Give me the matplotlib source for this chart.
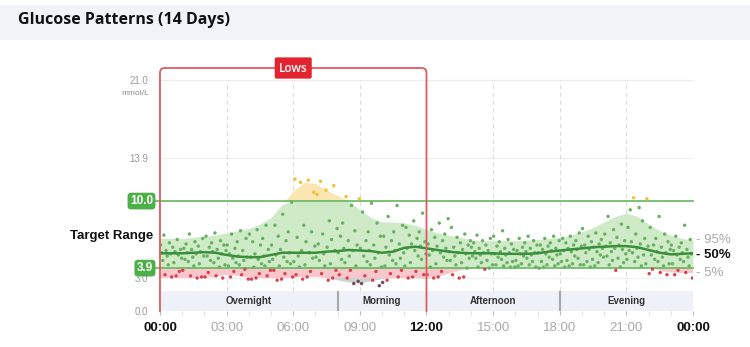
import numpy as np
import matplotlib.pyplot as plt
from matplotlib.patches import Rectangle

# half-hourly percentile curves (mmol/L)
hours = np.arange(0, 24.5, 0.5)
p95 = [6.6, 6.6, 6.6, 6.7, 6.8, 6.9, 7.1, 7.3, 7.5, 7.9, 8.5, 9.7, 10.9, 11.7, 11.6, 11.0,
       10.5, 10.0, 9.2, 8.5, 8.1, 8.1, 8.0, 7.8, 7.4,
       7.1, 6.9, 6.7, 6.5, 6.4, 6.4, 6.4, 6.4, 6.45, 6.5, 6.6, 6.7, 6.9, 7.2, 7.6, 8.1,
       8.6, 8.9, 8.6, 7.9, 7.3, 6.9, 6.6, 6.45]
p50 = [5.25, 5.25, 5.25, 5.3, 5.35, 5.3, 5.1, 4.95, 4.9, 4.9, 5.1, 5.3, 5.3, 5.3, 5.3, 5.4,
       5.45, 5.55, 5.5, 5.45, 5.3, 5.4, 5.75, 5.85, 5.7,
       5.55, 5.4, 5.3, 5.25, 5.25, 5.25, 5.2, 5.2, 5.2, 5.25, 5.4, 5.5, 5.6, 5.7, 5.8, 5.85,
       5.9, 5.9, 5.8, 5.55, 5.3, 5.15, 5.2, 5.25]
p5 = [3.0, 3.0, 3.0, 3.0, 3.0, 3.1, 3.3, 3.2, 3.05, 3.0, 3.0, 3.0, 3.05, 3.1, 3.1, 3.0,
      2.8, 2.6, 2.5, 2.7, 2.9, 3.0, 3.0, 3.0, 2.9,
      3.1, 3.4, 3.7, 3.9, 4.0, 4.05, 4.05, 4.05, 4.05, 4.05, 4.05, 4.05, 4.05, 4.05, 4.05, 4.05,
      4.05, 4.0, 4.0, 3.95, 3.7, 3.5, 3.45, 3.45]

# readings per hour of day (14 days pooled)
readings = [
    [6.9, 6.5, 6.2, 6.0, 5.8, 5.6, 5.5, 5.4, 5.3, 5.2, 5.1, 5.0, 4.8, 4.6, 4.4, 4.2, 3.6, 3.3, 3.2, 3.1],
    [7.0, 6.6, 6.3, 6.1, 5.9, 5.7, 5.6, 5.4, 5.3, 5.2, 5.0, 4.9, 4.7, 4.5, 4.3, 4.1, 3.7, 3.2, 3.1, 3.0],
    [7.1, 6.8, 6.4, 6.2, 6.0, 5.8, 5.6, 5.5, 5.4, 5.2, 5.0, 4.8, 4.6, 4.4, 4.2, 4.0, 3.5, 3.2, 3.1, 3.0],
    [7.3, 7.0, 6.6, 6.3, 6.0, 5.7, 5.5, 5.2, 5.0, 4.9, 4.8, 4.6, 4.4, 4.2, 4.1, 3.8, 3.6, 3.3, 3.1, 2.9],
    [7.8, 7.4, 7.0, 6.6, 6.3, 6.0, 5.6, 5.2, 5.0, 4.9, 4.7, 4.5, 4.3, 4.1, 4.0, 3.7, 3.4, 3.2, 3.0, 2.9],
    [9.9, 8.8, 7.8, 7.2, 6.8, 6.4, 6.0, 5.6, 5.3, 5.1, 4.9, 4.7, 4.5, 4.3, 4.1, 3.7, 3.4, 3.1, 2.9, 2.8],
    [12.0, 11.9, 11.7, 10.8, 7.8, 7.2, 6.7, 6.3, 5.9, 5.5, 5.3, 5.0, 4.8, 4.5, 4.2, 4.0, 3.6, 3.3, 3.1, 2.9],
    [11.8, 11.4, 11.0, 10.6, 8.2, 7.5, 7.0, 6.5, 6.1, 5.8, 5.5, 5.2, 4.9, 4.6, 4.3, 4.1, 3.7, 3.4, 3.0, 2.8],
    [10.4, 10.2, 9.6, 8.0, 7.3, 6.8, 6.4, 6.0, 5.7, 5.5, 5.3, 5.0, 4.7, 4.4, 4.1, 3.7, 3.3, 3.0, 2.7, 2.5],
    [9.8, 9.0, 8.0, 7.2, 6.8, 6.4, 6.0, 5.7, 5.5, 5.3, 5.0, 4.8, 4.5, 4.2, 4.0, 3.6, 3.2, 2.8, 2.5, 2.3],
    [9.6, 8.6, 7.8, 7.2, 6.8, 6.4, 6.1, 5.8, 5.5, 5.3, 5.1, 4.8, 4.6, 4.3, 4.1, 3.7, 3.4, 3.1, 2.8, 2.6],
    [8.9, 8.2, 7.6, 7.2, 6.9, 6.6, 6.3, 6.1, 5.9, 5.7, 5.5, 5.2, 5.0, 4.7, 4.4, 4.1, 3.6, 3.3, 3.1, 3.0],
    [8.4, 8.0, 7.4, 7.0, 6.7, 6.4, 6.1, 5.9, 5.7, 5.5, 5.3, 5.1, 4.9, 4.6, 4.3, 4.0, 3.6, 3.3, 3.1, 3.0],
    [7.6, 7.0, 6.7, 6.4, 6.2, 6.0, 5.8, 5.6, 5.4, 5.3, 5.2, 5.0, 4.8, 4.6, 4.4, 4.2, 3.9, 3.3, 3.1, 3.0],
    [6.9, 6.6, 6.4, 6.2, 6.0, 5.8, 5.7, 5.5, 5.4, 5.3, 5.2, 5.1, 5.0, 4.8, 4.6, 4.4, 4.2, 4.0, 3.9, 3.8],
    [7.3, 6.8, 6.5, 6.3, 6.1, 5.9, 5.7, 5.6, 5.4, 5.3, 5.2, 5.1, 4.9, 4.7, 4.5, 4.4, 4.2, 4.1, 4.0, 4.0],
    [6.8, 6.6, 6.4, 6.2, 6.0, 5.8, 5.7, 5.5, 5.4, 5.3, 5.2, 5.1, 5.0, 4.8, 4.6, 4.5, 4.3, 4.2, 4.1, 4.0],
    [6.8, 6.6, 6.4, 6.2, 6.0, 5.9, 5.7, 5.6, 5.5, 5.3, 5.2, 5.1, 4.9, 4.7, 4.5, 4.3, 4.2, 4.1, 4.0, 3.9],
    [7.1, 6.8, 6.6, 6.4, 6.2, 6.0, 5.9, 5.7, 5.6, 5.5, 5.4, 5.2, 5.0, 4.8, 4.6, 4.5, 4.3, 4.2, 4.1, 4.0],
    [7.5, 7.1, 6.8, 6.5, 6.3, 6.1, 6.0, 5.8, 5.7, 5.6, 5.4, 5.3, 5.1, 4.9, 4.7, 4.5, 4.4, 4.2, 4.1, 4.0],
    [8.6, 7.9, 7.4, 7.0, 6.7, 6.4, 6.2, 6.0, 5.9, 5.7, 5.6, 5.4, 5.2, 5.0, 4.8, 4.6, 4.4, 4.2, 4.0, 3.7],
    [10.3, 10.2, 9.4, 9.2, 8.2, 7.6, 7.0, 6.6, 6.3, 6.1, 5.9, 5.7, 5.5, 5.3, 5.1, 4.9, 4.7, 4.5, 4.3, 4.1],
    [8.6, 7.6, 7.0, 6.6, 6.3, 6.0, 5.8, 5.6, 5.4, 5.3, 5.1, 4.9, 4.7, 4.5, 4.3, 4.1, 3.8, 3.5, 3.4, 3.3],
    [7.8, 6.8, 6.5, 6.2, 6.0, 5.8, 5.6, 5.5, 5.3, 5.2, 5.1, 4.9, 4.7, 4.5, 4.3, 4.1, 3.7, 3.5, 3.3, 3.0],
]
# slot (of 20 per hour) each reading of an hour falls in
slot_order = [3, 15, 8, 0, 11, 18, 5, 13, 1, 9, 16, 6, 19, 2, 12, 7, 17, 4, 14, 10]

low_limit, high_limit = 3.9, 10.0
periods = ["Overnight", "Morning", "Afternoon", "Evening"]
period_edges = [0, 8, 12, 18, 24]
tick_hours = [0, 3, 6, 9, 12, 15, 18, 21, 24]
tick_labels = ["00:00", "03:00", "06:00", "09:00", "12:00", "15:00", "18:00", "21:00", "00:00"]
y_ticks = [0.0, 3.0, 13.9, 21.0]

plt.rcParams['font.family'] = ['Liberation Sans', 'DejaVu Sans']

fig = plt.figure(figsize=(7.5, 3.47), dpi=100)
fig.patches.append(Rectangle((0, 0.885), 1, 0.1, transform=fig.transFigure,
                             facecolor='#f1f3f9', edgecolor='none', zorder=0))
fig.text(0.024, 0.942, "Glucose Patterns (14 Days)", fontsize=11.5, weight='bold',
         family='Open Sans', va='center', color='#111111')

ax = fig.add_axes([0.2133, 0.1037, 0.7107, 0.713])
ax.set_xlim(0, 24)
ax.set_ylim(0, 22.5)
for s in ax.spines.values():
    s.set_visible(False)

p95 = np.array(p95)
p50 = np.array(p50)
p5 = np.array(p5)

# grid
ax.hlines([21.0, 13.9], 0, 24, color='#ececec', lw=0.8, zorder=0)
ax.hlines([3.0], 0, 24, color='#f0f0f0', lw=0.8, zorder=0)
ax.vlines([3, 6, 9, 15, 18, 21], 1.8, 21.0, color='#dcdcdc', lw=0.8,
          linestyles=(0, (4, 3)), zorder=0)

# percentile bands
ax.fill_between(hours, np.maximum(p5, low_limit), np.minimum(p95, high_limit),
                color='#cfeac6', lw=0, interpolate=True, zorder=1)
ax.fill_between(hours, high_limit, p95, where=p95 > high_limit,
                color='#fbe5b0', lw=0, interpolate=True, zorder=1)
ax.fill_between(hours, np.maximum(p5, 3.0), low_limit, where=p5 < low_limit,
                color='#f9c6cb', lw=0, interpolate=True, zorder=1)
ax.fill_between(hours, p5, 3.0, where=p5 < 3.0,
                color='#cfcfd4', lw=0, interpolate=True, zorder=1)

# readings, spread over the hour they were taken in
xs, ys = [], []
for h, vals in enumerate(readings):
    for i, v in enumerate(vals):
        xs.append(h + ((slot_order[i] + h * 3) % 20 + 0.5) / 20)
        ys.append(v)
xs = np.array(xs)
ys = np.array(ys)
cols = np.where(ys > high_limit, '#f0c030',
       np.where(ys < 2.8, '#6e4a55',
       np.where(ys < low_limit, '#d8434f', '#66b162')))
ax.scatter(xs, ys, s=6, c=cols, marker='o', lw=0, zorder=3)

# median
ax.plot(hours, p50, color='#3a8f3a', lw=1.8, zorder=4)

# target lines + tags
tr = ax.get_yaxis_transform()
for lim in (high_limit, low_limit):
    ax.plot([-0.013, 1], [lim, lim], transform=tr, color='#62b85e', lw=1.2,
            clip_on=False, zorder=2)
    ax.text(-0.013, lim, f"{lim:.1f}", transform=tr, ha='right', va='center',
            color='white', fontsize=8.5, weight='bold', zorder=6,
            bbox=dict(boxstyle='round,pad=0.2,rounding_size=0.3', fc='#4caf48', ec='none'))
ax.text(-0.013, 6.8, "Target Range", transform=tr, ha='right', va='center',
        fontsize=9.5, weight='bold', color='#111111')
ax.text(-0.02, 19.8, "mmol/L", transform=tr, ha='right', va='center',
        fontsize=6, color='#888888')

# right percentile labels
ax.text(1.006, p95[-1], "- 95%", transform=tr, va='center', fontsize=9.5, color='#aaaaaa')
ax.text(1.006, p50[-1] - 0.15, "- 50%", transform=tr, va='center', fontsize=9.5,
        color='#111111', weight='bold')
ax.text(1.006, p5[-1], "- 5%", transform=tr, va='center', fontsize=9.5, color='#aaaaaa')

# period band
ax.add_patch(Rectangle((0, 0), 24, 1.8, facecolor='#eef1f8', edgecolor='none', zorder=1))
ax.vlines([8, 18], 0, 1.8, color='#a8a8a8', lw=1.5, zorder=2)
for name, a, b in zip(periods, period_edges[:-1], period_edges[1:]):
    ax.text((a + b) / 2, 0.9, name, ha='center', va='center', fontsize=7,
            weight='bold', color='#333333', zorder=3)

# lows box
ax.plot([0, 0, 0.05, 0.18, 11.82, 11.95, 12, 12],
        [0, 21.75, 22.0, 22.1, 22.1, 22.0, 21.75, 0],
        color='#e05a62', lw=1.3, clip_on=False, zorder=5, solid_joinstyle='round')
ax.text(6, 22.1, "Lows", ha='center', va='center', color='white', fontsize=8.5,
        family='Open Sans', weight='semibold', zorder=6,
        bbox=dict(boxstyle='round,pad=0.35,rounding_size=0.15', fc='#e3232f', ec='none'))

# ticks
ax.set_yticks(y_ticks)
ax.set_yticklabels([f"{v:.1f}" for v in y_ticks])
ax.tick_params(axis='y', length=0, pad=8.5, labelsize=7, labelcolor='#999999')
ax.set_xticks(tick_hours)
ax.set_xticklabels(tick_labels)
ax.set_xticks(range(25), minor=True)
ax.tick_params(axis='x', which='major', length=3, pad=5, labelsize=9.5,
               labelcolor='#aaaaaa', color='#bbbbbb')
ax.tick_params(axis='x', which='minor', length=3, color='#dddddd')
for lbl, h in zip(ax.get_xticklabels(), tick_hours):
    if h % 12 == 0:
        lbl.set_color('#111111')
        lbl.set_fontweight('bold')

fig.savefig('out.png', dpi=100)
